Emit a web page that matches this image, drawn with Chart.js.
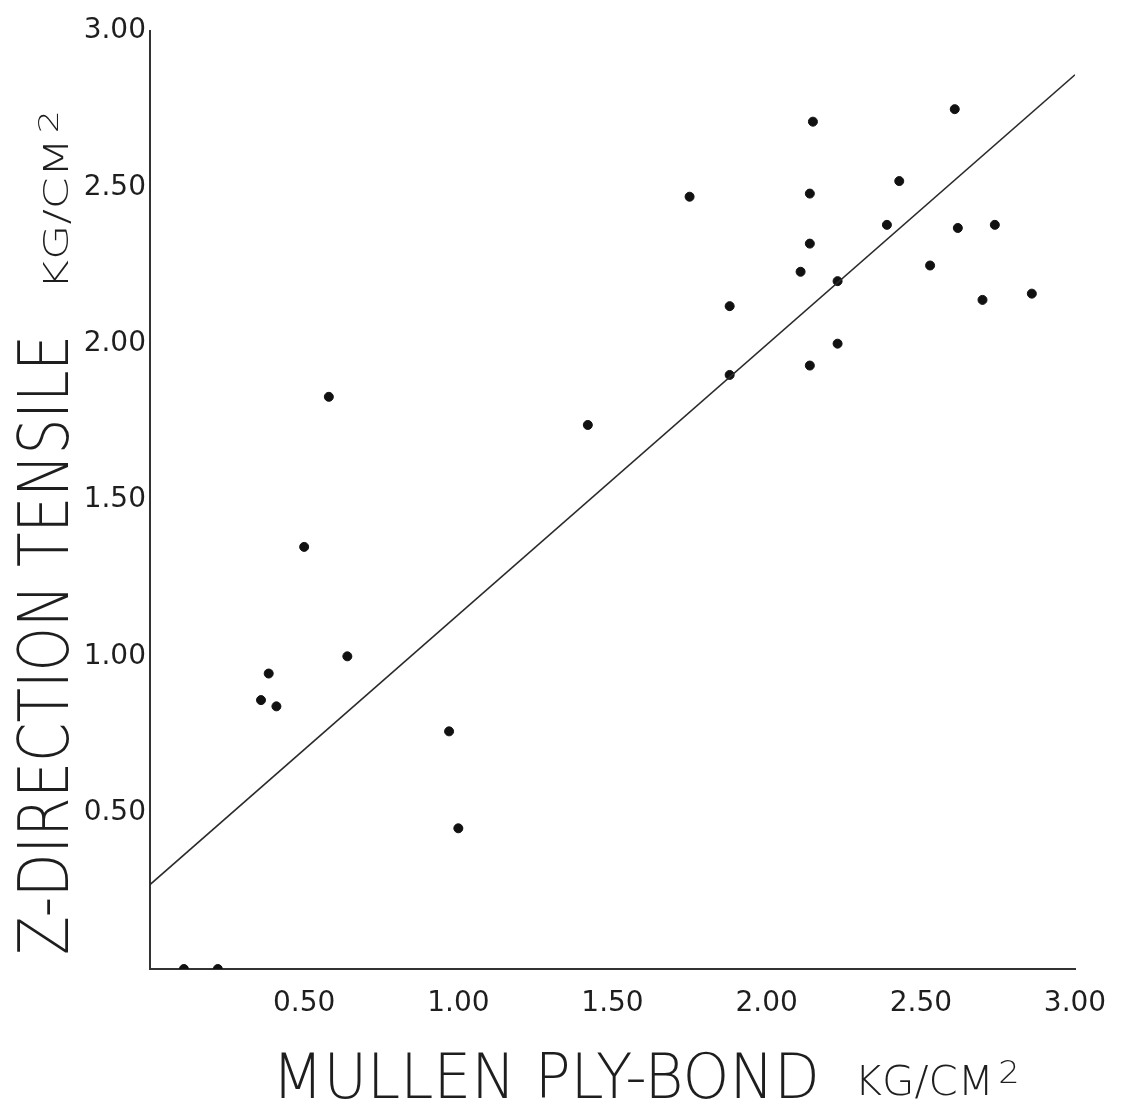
<!DOCTYPE html>
<html>
<head>
<meta charset="utf-8">
<script src="https://cdn.jsdelivr.net/npm/chart.js@4.4.1/dist/chart.umd.min.js"></script>
<style>
  html, body { margin: 0; padding: 0; background: #fff; }
  #wrap { width: 1122px; height: 1104px; }
</style>
</head>
<body>
<div id="wrap"><canvas id="scatter"></canvas></div>
<script>
// Mullen ply-bond (x) vs Z-direction tensile (y), kg/cm2
var plyBond = [0.11, 0.22, 0.36, 0.41, 0.385, 0.64, 0.50, 0.58, 0.97, 1.00,
               1.42, 1.75, 2.15, 2.61, 2.14, 2.43, 2.39, 2.62, 2.74, 2.14,
               2.11, 2.23, 2.53, 2.70, 2.86, 1.88, 2.23, 2.14, 1.88];
var tensile = [0.00, 0.00, 0.86, 0.84, 0.945, 1.00, 1.35, 1.83, 0.76, 0.45,
               1.74, 2.47, 2.71, 2.75, 2.48, 2.52, 2.38, 2.37, 2.38, 2.32,
               2.23, 2.20, 2.25, 2.14, 2.16, 2.12, 2.00, 1.93, 1.90];
// fitted line end points
var fitX = [0, 3];
var fitY = [0.27, 2.86];
var tickValues = [0.5, 1.0, 1.5, 2.0, 2.5, 3.0];

var points = plyBond.map(function (x, i) { return { x: x, y: tensile[i] }; });
var fitLine = fitX.map(function (x, i) { return { x: x, y: fitY[i] }; });

var FONT = '"DejaVu Sans", sans-serif';
var INK = '#1e1e1e';

// draw text squeezed to a target length, optional raised "2" after it
function drawFit(ctx, text, x, y, length, size, rotate, sup) {
  ctx.save();
  ctx.translate(x, y);
  if (rotate) ctx.rotate(-Math.PI / 2);
  ctx.font = '200 ' + size + 'px ' + FONT;
  var w = ctx.measureText(text).width;
  var supSize = size * 0.8;
  var supW = 0;
  if (sup) {
    ctx.font = '200 ' + supSize + 'px ' + FONT;
    supW = ctx.measureText(sup).width + size * 0.1;
  }
  var k = length / (w + supW);
  ctx.scale(k, 1);
  ctx.textBaseline = 'alphabetic';
  ctx.textAlign = 'left';
  ctx.fillStyle = INK;
  var start = -(w + supW) / 2;
  ctx.font = '200 ' + size + 'px ' + FONT;
  ctx.fillText(text, start, 0);
  if (sup) {
    ctx.font = '200 ' + supSize + 'px ' + FONT;
    ctx.fillText(sup, start + w + size * 0.1, -size * 0.3);
  }
  ctx.restore();
}

var titles = {
  id: 'handTitles',
  afterDraw: function (chart) {
    var ctx = chart.ctx;
    drawFit(ctx, 'Z-DIRECTION TENSILE', 68, 645, 620, 70, true);
    drawFit(ctx, 'KG/CM', 68, 200, 180, 34, true, '2');
    drawFit(ctx, 'MULLEN PLY-BOND', 546, 1098, 548, 62, false);
    drawFit(ctx, 'KG/CM', 937, 1095, 165, 40, false, '2');
  }
};

function tickLabel(v) {
  return tickValues.indexOf(v) >= 0 ? v.toFixed(2) : '';
}

new Chart(document.getElementById('scatter'), {
  type: 'scatter',
  data: {
    datasets: [
      {
        label: 'fit',
        type: 'line',
        data: fitLine,
        borderColor: '#2a2a2a',
        borderWidth: 1.6,
        pointRadius: 0,
        fill: false
      },
      {
        label: 'samples',
        data: points,
        backgroundColor: '#111',
        borderColor: '#111',
        pointRadius: 4.5,
        pointHoverRadius: 4.5
      }
    ]
  },
  options: {
    responsive: true,
    maintainAspectRatio: false,
    animation: false,
    layout: { padding: { top: 31, right: 47, left: 0, bottom: 0 } },
    plugins: { legend: { display: false }, tooltip: { enabled: false } },
    scales: {
      x: {
        type: 'linear',
        min: 0,
        max: 3,
        grid: { display: false },
        border: { display: true, color: '#333', width: 2 },
        ticks: {
          stepSize: 0.5,
          padding: 10,
          maxRotation: 0,
          color: INK,
          font: { family: FONT, size: 28 },
          callback: tickLabel
        },
        afterFit: function (s) { s.height = 135; }
      },
      y: {
        type: 'linear',
        min: 0,
        max: 3,
        grid: { display: false },
        border: { display: true, color: '#333', width: 2 },
        ticks: {
          stepSize: 0.5,
          padding: -4,
          color: INK,
          font: { family: FONT, size: 28 },
          callback: tickLabel
        },
        afterFit: function (s) { s.width = 150; }
      }
    }
  },
  plugins: [titles]
});
</script>
</body>
</html>
